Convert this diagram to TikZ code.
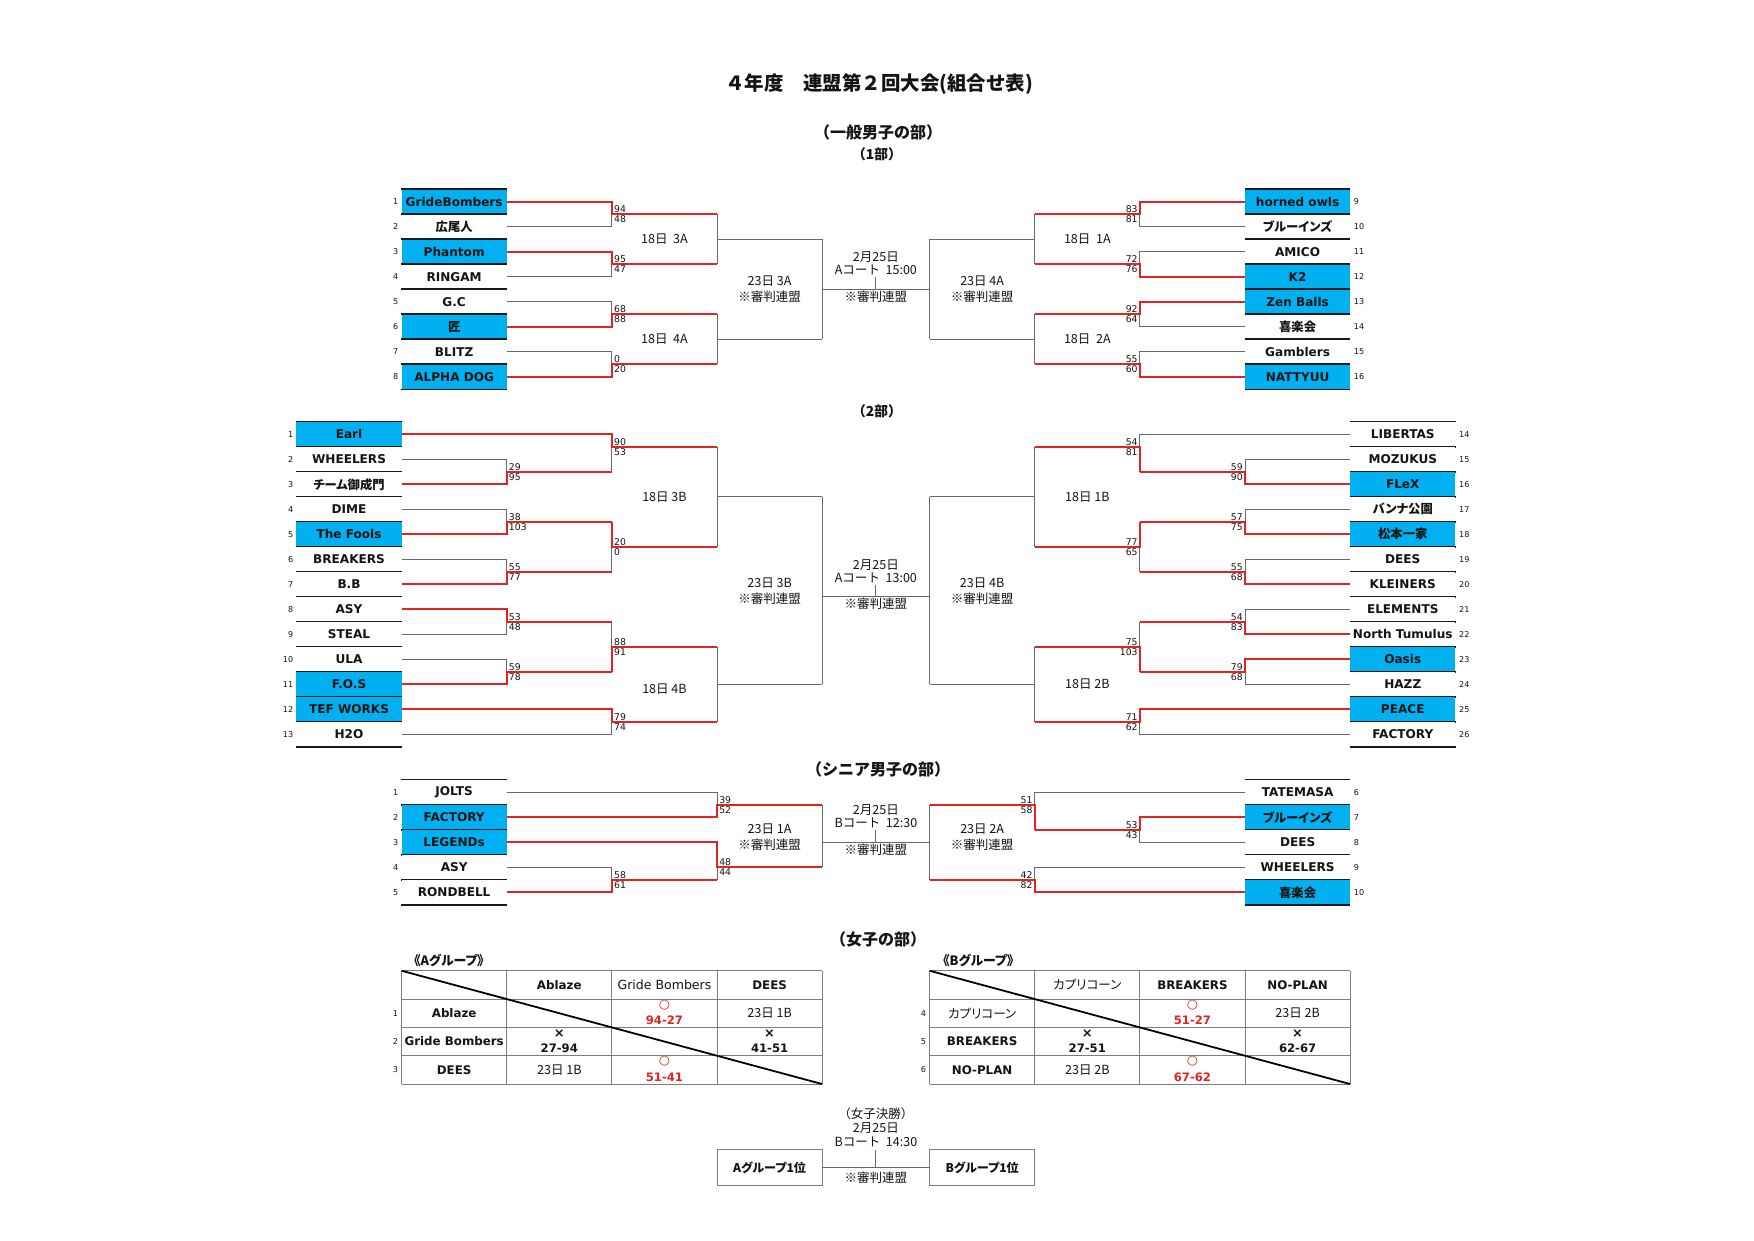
\documentclass[tikz,border=0pt]{standalone}
\usepackage{fontspec}
\setmainfont{DejaVu Sans}
\newfontfamily\jp{Noto Sans CJK JP}
\newfontfamily\jpp{Noto Sans CJK JP}[RawFeature={+palt}]
\definecolor{boxblue}{RGB}{0,176,240}
\definecolor{redln}{RGB}{225,35,35}
\definecolor{grayln}{RGB}{105,105,105}
\definecolor{gridgray}{RGB}{125,125,125}
\definecolor{txt}{RGB}{20,20,20}
\newcommand\myfs[2]{\fontsize{#1}{#2}\selectfont}
\newcommand\J[1]{{\jpp\myfs{11}{12}#1}}
\tikzset{
  team/.style={minimum width=94pt, minimum height=22.35pt, inner sep=0pt, font=\myfs{10.8}{12}\bfseries, text=txt},
  win/.style={fill=boxblue},
  lose/.style={fill=white},
  boxrule/.style={line width=1.3pt, black!90},
  ln/.style={line width=0.9pt, grayln},
  rl/.style={line width=1.6pt, redln},
  sc/.style={font=\myfs{8.3}{9}, inner sep=0.6pt, text=txt},
  num/.style={font=\myfs{7.2}{8}, inner sep=0pt, text=txt},
  lab/.style={font=\jp\myfs{11.2}{14.5}, align=center, inner sep=0pt, text=txt},
  head/.style={font=\jp\bfseries\myfs{14.3}{16}, inner sep=0pt, text=txt},
  tgrid/.style={line width=0.8pt, gridgray},
  tdiag/.style={line width=1.6pt, black},
  tcell/.style={font=\myfs{10.6}{12}\bfseries, inner sep=0pt, text=txt},
  tcellr/.style={font=\myfs{11.2}{12}, inner sep=0pt, text=txt},
  tcelljp/.style={font=\jpp\myfs{11.2}{12}, inner sep=0pt, text=txt},
  okm/.style={font=\myfs{11.5}{12}, text=redln, inner sep=0pt},
  ngm/.style={font=\bfseries\myfs{11.5}{12}, text=txt, inner sep=0pt},
  scr/.style={font=\bfseries\myfs{10.4}{12}, text=redln, inner sep=0pt},
  scb/.style={font=\bfseries\myfs{10.4}{12}, text=txt, inner sep=0pt},
  finbox/.style={draw=gridgray, line width=0.9pt, minimum width=94pt, minimum height=32pt, inner sep=0pt, font=\jpp\bfseries\myfs{10.8}{12}, text=txt, fill=white},
}
\newcommand\tmL[6]{\node[team,#4] (#1) at (#2,#3) {#5};
  \draw[boxrule] (#1.north west) -- (#1.north east) (#1.south west) -- (#1.south east);
  \node[num,anchor=east] (#1n) at ([xshift=-2.5pt]#1.west) {#6};}
\newcommand\tmR[6]{\node[team,#4] (#1) at (#2,#3) {#5};
  \draw[boxrule] (#1.north west) -- (#1.north east) (#1.south west) -- (#1.south east);
  \node[num,anchor=west] (#1n) at ([xshift=3pt]#1.east) {#6};}
\newcommand\scL[3]{\node[sc,anchor=south west] (#1t) at ([xshift=1.2pt,yshift=0.4pt]#1) {#2};
  \node[sc,anchor=north west] (#1b) at ([xshift=1.2pt,yshift=-0.8pt]#1) {#3};}
\newcommand\scR[3]{\node[sc,anchor=south east] (#1t) at ([xshift=-1.2pt,yshift=0.4pt]#1) {#2};
  \node[sc,anchor=north east] (#1b) at ([xshift=-1.2pt,yshift=-0.8pt]#1) {#3};}
\newcommand\ctr[3]{\node[lab] (#1d) at ([yshift=28.6pt]#1) {#2};
  \node[lab] (#1c) at ([yshift=17.4pt]#1) {#3};
  \coordinate (#1k) at ([yshift=10.6pt]#1);
  \draw[ln] (#1k) -- (#1);
  \node[lab] (#1m) at ([yshift=-6.6pt]#1) {※審判連盟};}

\begin{document}
\begin{tikzpicture}[x=1pt,y=-1pt]
\fill[white] (0,0) rectangle (1568,1109);
\useasboundingbox (0,0) rectangle (1568,1109);

% ---------- headings ----------
\node[head, font=\jp\bfseries\myfs{17.4}{18}] (title) at (786,75) {４年度　連盟第２回大会(組合せ表)};
\node[head] (h1) at (785,118) {（一般男子の部）};
\node[head, font=\jp\bfseries\myfs{12.3}{13}] (h1s) at (784,138) {（1部）};
\node[head, font=\jp\bfseries\myfs{12.3}{13}] (h2s) at (784,368) {（2部）};
\node[head] (h3) at (785,688) {（シニア男子の部）};
\node[head] (h4) at (785,840) {（女子の部）};

% ================= Section 1 =================
\begin{scope}[yshift=-158.05pt, y=-22.35pt]
\coordinate (ja12) at (547,1.5); \coordinate (oa12) at (641,1.5);
\coordinate (ja34) at (547,3.5); \coordinate (oa34) at (641,3.5);
\coordinate (ja56) at (547,5.5); \coordinate (oa56) at (641,5.5);
\coordinate (ja78) at (547,7.5); \coordinate (oa78) at (641,7.5);
\coordinate (ja14) at (641,2.5); \coordinate (oa14) at (735,2.5);
\coordinate (ja58) at (641,6.5); \coordinate (oa58) at (735,6.5);
\coordinate (c1l) at (735,4.5); \coordinate (c1) at (783,4.5); \coordinate (c1r) at (831,4.5);
\coordinate (ja910) at (1019,1.5); \coordinate (oa910) at (925,1.5);
\coordinate (ja1112) at (1019,3.5); \coordinate (oa1112) at (925,3.5);
\coordinate (ja1314) at (1019,5.5); \coordinate (oa1314) at (925,5.5);
\coordinate (ja1516) at (1019,7.5); \coordinate (oa1516) at (925,7.5);
\coordinate (ja912) at (925,2.5); \coordinate (oa912) at (831,2.5);
\coordinate (ja1316) at (925,6.5); \coordinate (oa1316) at (831,6.5);

\tmL{a1}{406}{1}{win}{GrideBombers}{1}
\tmL{a2}{406}{2}{lose}{\J{広尾人}}{2}
\tmL{a3}{406}{3}{win}{Phantom}{3}
\tmL{a4}{406}{4}{lose}{RINGAM}{4}
\tmL{a5}{406}{5}{lose}{G.C}{5}
\tmL{a6}{406}{6}{win}{\J{匠}}{6}
\tmL{a7}{406}{7}{lose}{BLITZ}{7}
\tmL{a8}{406}{8}{win}{ALPHA DOG}{8}
\tmR{a9}{1160}{1}{win}{horned owls}{9}
\tmR{a10}{1160}{2}{lose}{\J{ブルーインズ}}{10}
\tmR{a11}{1160}{3}{lose}{AMICO}{11}
\tmR{a12}{1160}{4}{win}{K2}{12}
\tmR{a13}{1160}{5}{win}{Zen Balls}{13}
\tmR{a14}{1160}{6}{lose}{\J{喜楽会}}{14}
\tmR{a15}{1160}{7}{lose}{Gamblers}{15}
\tmR{a16}{1160}{8}{win}{NATTYUU}{16}

% gray
\draw[ln] (a2.east) -| (ja12);
\draw[ln] (a4.east) -| (ja34);
\draw[ln] (a5.east) -| (ja56);
\draw[ln] (a7.east) -| (ja78);
\draw[ln] (oa12) -- (oa34);
\draw[ln] (ja14) -- (oa14);
\draw[ln] (oa56) -- (oa78);
\draw[ln] (ja58) -- (oa58);
\draw[ln] (oa14) -- (oa58);
\draw[ln] (c1l) -- (c1r);
\draw[ln] (a10.west) -| (ja910);
\draw[ln] (a11.west) -| (ja1112);
\draw[ln] (a14.west) -| (ja1314);
\draw[ln] (a15.west) -| (ja1516);
\draw[ln] (oa910) -- (oa1112);
\draw[ln] (ja912) -- (oa912);
\draw[ln] (oa1314) -- (oa1516);
\draw[ln] (ja1316) -- (oa1316);
\draw[ln] (oa912) -- (oa1316);
% red
\draw[rl] (a1.east) -| (ja12) -- (oa12);
\draw[rl] (a3.east) -| (ja34) -- (oa34);
\draw[rl] (a6.east) -| (ja56) -- (oa56);
\draw[rl] (a8.east) -| (ja78) -- (oa78);
\draw[rl] (a9.west) -| (ja910) -- (oa910);
\draw[rl] (a12.west) -| (ja1112) -- (oa1112);
\draw[rl] (a13.west) -| (ja1314) -- (oa1314);
\draw[rl] (a16.west) -| (ja1516) -- (oa1516);

\scL{ja12}{94}{48} \scL{ja34}{95}{47} \scL{ja56}{68}{88} \scL{ja78}{0}{20}
\scR{ja910}{83}{81} \scR{ja1112}{72}{76} \scR{ja1314}{92}{64} \scR{ja1516}{55}{60}

\node[lab] (l3a) at (594,2.5) {18日\ \ 3A};
\node[lab] (l4a) at (594,6.5) {18日\ \ 4A};
\node[lab] (l23a) at (688,4.5) {23日 3A\\※審判連盟};
\node[lab] (l1a) at (972,2.5) {18日\ \ 1A};
\node[lab] (l2a) at (972,6.5) {18日\ \ 2A};
\node[lab] (l23b) at (878,4.5) {23日 4A\\※審判連盟};
\ctr{c1}{2月25日}{Aコート\ \ 15:00}
\end{scope}

% ================= Section 2 =================
\begin{scope}[yshift=-365.9pt, y=-22.35pt]
\coordinate (jb23) at (453,2.5); \coordinate (ob23) at (547,2.5);
\coordinate (jb1) at (547,1.5); \coordinate (ob1) at (641,1.5);
\coordinate (jb45) at (453,4.5); \coordinate (ob45) at (547,4.5);
\coordinate (jb67) at (453,6.5); \coordinate (ob67) at (547,6.5);
\coordinate (jb47) at (547,5.5); \coordinate (ob47) at (641,5.5);
\coordinate (jb17) at (641,3.5); \coordinate (ob17) at (735,3.5);
\coordinate (jb89) at (453,8.5); \coordinate (ob89) at (547,8.5);
\coordinate (jb1011) at (453,10.5); \coordinate (ob1011) at (547,10.5);
\coordinate (jb811) at (547,9.5); \coordinate (ob811) at (641,9.5);
\coordinate (jb1213) at (547,12.5); \coordinate (ob1213) at (641,12.5);
\coordinate (jb813) at (641,11); \coordinate (ob813) at (735,11);
\coordinate (c2l) at (735,7.5); \coordinate (c2) at (783,7.5); \coordinate (c2r) at (831,7.5);
\coordinate (jb1516) at (1113,2.5); \coordinate (ob1516) at (1019,2.5);
\coordinate (jb14) at (1019,1.5); \coordinate (ob14) at (925,1.5);
\coordinate (jb1718) at (1113,4.5); \coordinate (ob1718) at (1019,4.5);
\coordinate (jb1920) at (1113,6.5); \coordinate (ob1920) at (1019,6.5);
\coordinate (jb1720) at (1019,5.5); \coordinate (ob1720) at (925,5.5);
\coordinate (jb1420) at (925,3.5); \coordinate (ob1420) at (831,3.5);
\coordinate (jb2122) at (1113,8.5); \coordinate (ob2122) at (1019,8.5);
\coordinate (jb2324) at (1113,10.5); \coordinate (ob2324) at (1019,10.5);
\coordinate (jb2124) at (1019,9.5); \coordinate (ob2124) at (925,9.5);
\coordinate (jb2526) at (1019,12.5); \coordinate (ob2526) at (925,12.5);
\coordinate (jb2126) at (925,11); \coordinate (ob2126) at (831,11);

\tmL{b1}{312}{1}{win}{Earl}{1}
\tmL{b2}{312}{2}{lose}{WHEELERS}{2}
\tmL{b3}{312}{3}{lose}{\J{チーム御成門}}{3}
\tmL{b4}{312}{4}{lose}{DIME}{4}
\tmL{b5}{312}{5}{win}{The Fools}{5}
\tmL{b6}{312}{6}{lose}{BREAKERS}{6}
\tmL{b7}{312}{7}{lose}{B.B}{7}
\tmL{b8}{312}{8}{lose}{ASY}{8}
\tmL{b9}{312}{9}{lose}{STEAL}{9}
\tmL{b10}{312}{10}{lose}{ULA}{10}
\tmL{b11}{312}{11}{win}{F.O.S}{11}
\tmL{b12}{312}{12}{win}{TEF WORKS}{12}
\tmL{b13}{312}{13}{lose}{H2O}{13}
\tmR{b14}{1254}{1}{lose}{LIBERTAS}{14}
\tmR{b15}{1254}{2}{lose}{MOZUKUS}{15}
\tmR{b16}{1254}{3}{win}{FLeX}{16}
\tmR{b17}{1254}{4}{lose}{\J{バンナ公園}}{17}
\tmR{b18}{1254}{5}{win}{\J{松本一家}}{18}
\tmR{b19}{1254}{6}{lose}{DEES}{19}
\tmR{b20}{1254}{7}{lose}{KLEINERS}{20}
\tmR{b21}{1254}{8}{lose}{ELEMENTS}{21}
\tmR{b22}{1254}{9}{lose}{North Tumulus}{22}
\tmR{b23}{1254}{10}{win}{Oasis}{23}
\tmR{b24}{1254}{11}{lose}{HAZZ}{24}
\tmR{b25}{1254}{12}{win}{PEACE}{25}
\tmR{b26}{1254}{13}{lose}{FACTORY}{26}

% gray
\draw[ln] (b2.east) -| (jb23);
\draw[ln] (ob23) -- (jb1);
\draw[ln] (b4.east) -| (jb45);
\draw[ln] (b6.east) -| (jb67);
\draw[ln] (ob67) -- (jb47);
\draw[ln] (ob1) -- (ob47);
\draw[ln] (jb17) -- (ob17);
\draw[ln] (b9.east) -| (jb89);
\draw[ln] (b10.east) -| (jb1011);
\draw[ln] (ob89) -- (jb811);
\draw[ln] (b13.east) -| (jb1213);
\draw[ln] (ob811) -- (ob1213);
\draw[ln] (jb813) -- (ob813);
\draw[ln] (ob17) -- (ob813);
\draw[ln] (c2l) -- (c2r);
\draw[ln] (b15.west) -| (jb1516);
\draw[ln] (b14.west) -| (jb14);
\draw[ln] (b17.west) -| (jb1718);
\draw[ln] (b19.west) -| (jb1920);
\draw[ln] (ob1920) -- (jb1720);
\draw[ln] (ob14) -- (ob1720);
\draw[ln] (jb1420) -- (ob1420);
\draw[ln] (b21.west) -| (jb2122);
\draw[ln] (b24.west) -| (jb2324);
\draw[ln] (ob2122) -- (jb2124);
\draw[ln] (b26.west) -| (jb2526);
\draw[ln] (ob2124) -- (ob2526);
\draw[ln] (jb2126) -- (ob2126);
\draw[ln] (ob1420) -- (ob2126);
% red
\draw[rl] (b3.east) -| (jb23) -- (ob23);
\draw[rl] (b1.east) -| (jb1) -- (ob1);
\draw[rl] (b5.east) -| (jb45) -- (ob45);
\draw[rl] (b7.east) -| (jb67) -- (ob67);
\draw[rl] (ob45) -- (jb47) -- (ob47);
\draw[rl] (b8.east) -| (jb89) -- (ob89);
\draw[rl] (b11.east) -| (jb1011) -- (ob1011);
\draw[rl] (ob1011) -- (jb811) -- (ob811);
\draw[rl] (b12.east) -| (jb1213) -- (ob1213);
\draw[rl] (b16.west) -| (jb1516) -- (ob1516);
\draw[rl] (ob1516) -- (jb14) -- (ob14);
\draw[rl] (b18.west) -| (jb1718) -- (ob1718);
\draw[rl] (b20.west) -| (jb1920) -- (ob1920);
\draw[rl] (ob1718) -- (jb1720) -- (ob1720);
\draw[rl] (b22.west) -| (jb2122) -- (ob2122);
\draw[rl] (b23.west) -| (jb2324) -- (ob2324);
\draw[rl] (ob2324) -- (jb2124) -- (ob2124);
\draw[rl] (b25.west) -| (jb2526) -- (ob2526);

\scL{jb23}{29}{95} \scL{jb1}{90}{53} \scL{jb45}{38}{103} \scL{jb67}{55}{77}
\scL{jb47}{20}{0} \scL{jb89}{53}{48} \scL{jb1011}{59}{78} \scL{jb811}{88}{91} \scL{jb1213}{79}{74}
\scR{jb1516}{59}{90} \scR{jb14}{54}{81} \scR{jb1718}{57}{75} \scR{jb1920}{55}{68}
\scR{jb1720}{77}{65} \scR{jb2122}{54}{83} \scR{jb2324}{79}{68} \scR{jb2124}{75}{103} \scR{jb2526}{71}{62}

\node[lab] (l3b) at (594,3.5) {18日 3B};
\node[lab] (l4b) at (594,11.2) {18日 4B};
\node[lab] (l23c) at (688,7.27) {23日 3B\\※審判連盟};
\node[lab] (l1b) at (972,3.5) {18日 1B};
\node[lab] (l2b) at (972,11) {18日 2B};
\node[lab] (l23d) at (878,7.27) {23日 4B\\※審判連盟};
\ctr{c2}{2月25日}{Aコート\ \ 13:00}
\end{scope}

% ================= Senior =================
\begin{scope}[yshift=-685.95pt, y=-22.35pt]
\coordinate (js45) at (547,4.5); \coordinate (os45) at (641,4.5);
\coordinate (js12) at (641,1.5); \coordinate (os12) at (735,1.5);
\coordinate (js3) at (641,4); \coordinate (os3) at (735,4);
\coordinate (c3l) at (735,3); \coordinate (c3) at (783,3); \coordinate (c3r) at (831,3);
\coordinate (js78) at (1019,2.5); \coordinate (os78) at (925,2.5);
\coordinate (js6) at (925,1.5); \coordinate (os6) at (831,1.5);
\coordinate (js910) at (925,4.5); \coordinate (os910) at (831,4.5);

\tmL{s1}{406}{1}{lose}{JOLTS}{1}
\tmL{s2}{406}{2}{win}{FACTORY}{2}
\tmL{s3}{406}{3}{win}{LEGENDs}{3}
\tmL{s4}{406}{4}{lose}{ASY}{4}
\tmL{s5}{406}{5}{lose}{RONDBELL}{5}
\tmR{s6}{1160}{1}{lose}{TATEMASA}{6}
\tmR{s7}{1160}{2}{win}{\J{ブルーインズ}}{7}
\tmR{s8}{1160}{3}{lose}{DEES}{8}
\tmR{s9}{1160}{4}{lose}{WHEELERS}{9}
\tmR{s10}{1160}{5}{win}{\J{喜楽会}}{10}

\draw[ln] (s4.east) -| (js45);
\draw[ln] (s1.east) -| (js12);
\draw[ln] (os45) -- (js3);
\draw[ln] (os12) -- (os3);
\draw[ln] (c3l) -- (c3r);
\draw[ln] (s8.west) -| (js78);
\draw[ln] (s6.west) -| (js6);
\draw[ln] (s9.west) -| (js910);
\draw[ln] (os6) -- (os910);
\draw[rl] (s5.east) -| (js45) -- (os45);
\draw[rl] (s2.east) -| (js12) -- (os12);
\draw[rl] (s3.east) -| (js3) -- (os3);
\draw[rl] (s7.west) -| (js78) -- (os78);
\draw[rl] (os78) -- (js6) -- (os6);
\draw[rl] (s10.west) -| (js910) -- (os910);

\scL{js45}{58}{61} \scL{js12}{39}{52} \scL{js3}{48}{44}
\scR{js78}{53}{43} \scR{js6}{51}{58} \scR{js910}{42}{82}

\node[lab] (l1s) at (688,2.8) {23日 1A\\※審判連盟};
\node[lab] (l2s) at (878,2.8) {23日 2A\\※審判連盟};
\ctr{c3}{2月25日}{Bコート\ \ 12:30}
\end{scope}

% ================= Women: group tables =================
% A group
\coordinate (ta0) at (359,867.8); \coordinate (ta1) at (735,969.1);
\foreach \x in {359,453,547,641,735} \draw[tgrid] (\x,867.8) -- (\x,969.1);
\foreach \y in {867.8,893.1,918.4,943.7,969.1} \draw[tgrid] (359,\y) -- (735,\y);
\draw[tdiag] (ta0) -- (ta1);
\node[head, font=\jpp\bfseries\myfs{11.5}{12}, anchor=west] (agrp) at (370,858.8) {《Aグループ》};
\node[tcell] (ah1) at (500,880.5) {Ablaze};
\node[tcellr] (ah2) at (594,880) {Gride Bombers};
\node[tcell] (ah3) at (688,880.5) {DEES};
\node[tcell] (ar1) at (406,905.8) {Ablaze};
\node[tcell] (ar2) at (406,931.1) {Gride Bombers};
\node[tcell] (ar3) at (406,956.4) {DEES};
\node[num,anchor=east] (an1) at (356,905.8) {1};
\node[num,anchor=east] (an2) at (356,931.1) {2};
\node[num,anchor=east] (an3) at (356,956.4) {3};
\node[okm] (a12m) at (594,898.4) {○};
\node[scr] (a12s) at (594,912.2) {94-27};
\node[tcelljp] (a13) at (688,905.8) {23日 1B};
\node[ngm] (a21m) at (500,923.7) {×};
\node[scb] (a21s) at (500,937.5) {27-94};
\node[ngm] (a23m) at (688,923.7) {×};
\node[scb] (a23s) at (688,937.5) {41-51};
\node[tcelljp] (a31) at (500,956.4) {23日 1B};
\node[okm] (a32m) at (594,949) {○};
\node[scr] (a32s) at (594,962.8) {51-41};

% B group
\coordinate (tb0) at (831,867.8); \coordinate (tb1) at (1207,969.1);
\foreach \x in {831,925,1019,1113,1207} \draw[tgrid] (\x,867.8) -- (\x,969.1);
\foreach \y in {867.8,893.1,918.4,943.7,969.1} \draw[tgrid] (831,\y) -- (1207,\y);
\draw[tdiag] (tb0) -- (tb1);
\node[head, font=\jpp\bfseries\myfs{11.5}{12}, anchor=west] (bgrp) at (843,858.8) {《Bグループ》};
\node[tcelljp] (bh1) at (972,880.5) {カプリコーン};
\node[tcell] (bh2) at (1066,880.5) {BREAKERS};
\node[tcell] (bh3) at (1160,880.5) {NO-PLAN};
\node[tcelljp] (br1) at (878,905.8) {カプリコーン};
\node[tcell] (br2) at (878,931.1) {BREAKERS};
\node[tcell] (br3) at (878,956.4) {NO-PLAN};
\node[num,anchor=east] (bn1) at (828,905.8) {4};
\node[num,anchor=east] (bn2) at (828,931.1) {5};
\node[num,anchor=east] (bn3) at (828,956.4) {6};
\node[okm] (b12m) at (1066,898.4) {○};
\node[scr] (b12s) at (1066,912.2) {51-27};
\node[tcelljp] (b13) at (1160,905.8) {23日 2B};
\node[ngm] (b21m) at (972,923.7) {×};
\node[scb] (b21s) at (972,937.5) {27-51};
\node[ngm] (b23m) at (1160,923.7) {×};
\node[scb] (b23s) at (1160,937.5) {62-67};
\node[tcelljp] (b31) at (972,956.4) {23日 2B};
\node[okm] (b32m) at (1066,949) {○};
\node[scr] (b32s) at (1066,962.8) {67-62};

% ================= Women final =================
\node[finbox] (fa) at (688,1044) {Aグループ1位};
\node[finbox] (fb) at (878,1044) {Bグループ1位};
\coordinate (fc) at (783,1044); \coordinate (fk) at (783,1028);
\draw[ln] (fa) -- (fb);
\draw[ln] (fk) -- (fc);
\node[lab] (fl1) at (783,996) {（女子決勝）};
\node[lab] (fl2) at (783,1008.5) {2月25日};
\node[lab] (fl3) at (783,1020.5) {Bコート\ \ 14:30};
\node[lab] (fl4) at (783,1052.5) {※審判連盟};
\end{tikzpicture}
\end{document}
